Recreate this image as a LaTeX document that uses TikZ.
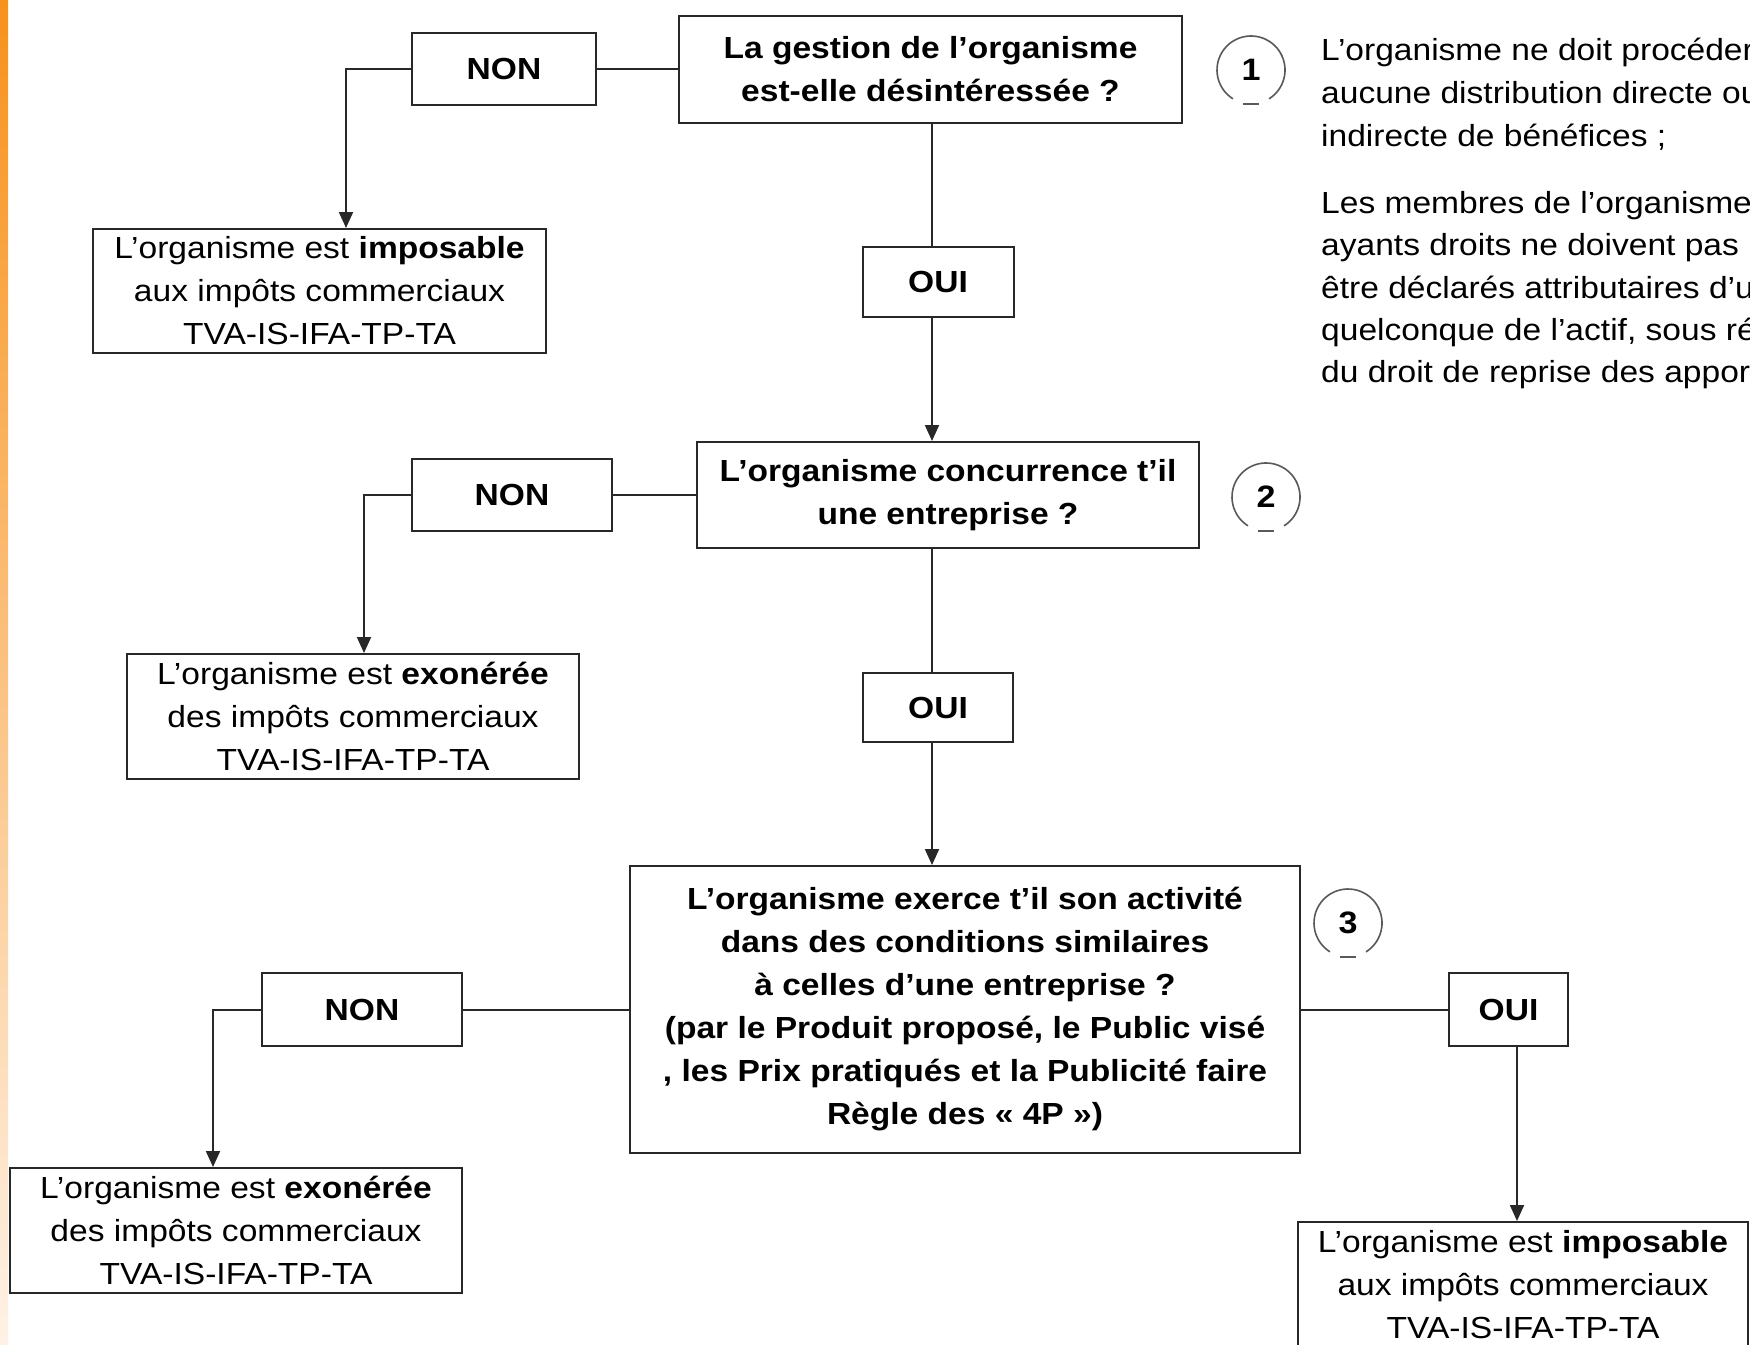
\documentclass[tikz,border=0pt]{standalone}
\usepackage{fontspec}
\setmainfont{Liberation Sans}[FakeStretch=1.1]
\usetikzlibrary{arrows.meta}
\definecolor{orA}{RGB}{247,146,28}
\definecolor{orB}{RGB}{252,196,130}
\definecolor{orC}{RGB}{254,242,230}
\definecolor{ink}{RGB}{40,40,40}
\begin{document}
\begin{tikzpicture}[x=1pt,y=-1pt,
  box/.style={draw=ink, line width=2pt, fill=white, align=center, inner sep=0pt,
    font=\fontsize{30.5}{43}\selectfont},
  lbl/.style={box, font=\bfseries\fontsize{30.5}{43}\selectfont},
  ln/.style={draw=ink, line width=2pt},
  arr/.style={ln, -{Triangle[length=16pt,width=14pt]}},
  circ/.style={draw=black!65, line width=1.6pt},
  num/.style={font=\bfseries\fontsize{31}{36}\selectfont, inner sep=0pt},
  side/.style={anchor=base west, inner sep=0pt, font=\fontsize{30.5}{43}\selectfont}]

\useasboundingbox (0,0) rectangle (1750,1344);
\fill[white] (0,0) rectangle (1750,1344);
\shade[top color=orA, middle color=orB, bottom color=orC] (0,0) rectangle (8,1344);

% questions
\node[lbl, minimum width=503pt, minimum height=107pt] (q1) at (930.5,69.5)
  {La gestion de l’organisme\\est-elle désintéressée ?};
\node[lbl, minimum width=502pt, minimum height=106pt] (q2) at (948,495)
  {L’organisme concurrence t’il\\une entreprise ?};
\node[lbl, minimum width=670pt, minimum height=287pt] (q3) at (965,1009.5)
  {L’organisme exerce t’il son activité\\dans des conditions similaires\\à celles d’une entreprise ?\\(par le Produit proposé, le Public visé\\, les Prix pratiqués et la Publicité faire\\Règle des « 4P »)};

% labels
\node[lbl, minimum width=184pt, minimum height=72pt] (non1) at (504,69) {NON};
\node[lbl, minimum width=151pt, minimum height=70pt] (oui1) at (938,282) {OUI};
\node[lbl, minimum width=200pt, minimum height=72pt] (non2) at (512,495) {NON};
\node[lbl, minimum width=150pt, minimum height=69pt] (oui2) at (938,707.5) {OUI};
\node[lbl, minimum width=200pt, minimum height=73pt] (non3) at (362,1009.5) {NON};
\node[lbl, minimum width=119pt, minimum height=73pt] (oui3) at (1508.5,1009.5) {OUI};

% results
\node[box, minimum width=453pt, minimum height=124pt] (r1) at (319.5,291)
  {L’organisme est \textbf{imposable}\\aux impôts commerciaux\\TVA-IS-IFA-TP-TA};
\node[box, minimum width=452pt, minimum height=125pt] (r2) at (353,716.5)
  {L’organisme est \textbf{exonérée}\\des impôts commerciaux\\TVA-IS-IFA-TP-TA};
\node[box, minimum width=452pt, minimum height=125pt] (r3) at (236,1230.5)
  {L’organisme est \textbf{exonérée}\\des impôts commerciaux\\TVA-IS-IFA-TP-TA};
\node[box, minimum width=450pt, minimum height=125pt] (r4) at (1523,1284.5)
  {L’organisme est \textbf{imposable}\\aux impôts commerciaux\\TVA-IS-IFA-TP-TA};

% helper coordinates
\coordinate (v) at (932,0);
\coordinate (a1) at (346,0);
\coordinate (a2) at (364,0);
\coordinate (a3) at (213,0);
\coordinate (a4) at (1517,0);

% connectors
\draw[ln] (q1.west |- non1.east) -- (non1.east);
\draw[arr] (non1.west) -| (a1 |- r1.north);
\draw[ln] (q1.south -| v) -- (oui1.north -| v);
\draw[arr] (oui1.south -| v) -- (q2.north -| v);
\draw[ln] (q2.west |- non2.east) -- (non2.east);
\draw[arr] (non2.west) -| (a2 |- r2.north);
\draw[ln] (q2.south -| v) -- (oui2.north -| v);
\draw[arr] (oui2.south -| v) -- (q3.north -| v);
\draw[ln] (q3.west |- non3.east) -- (non3.east);
\draw[arr] (non3.west) -| (a3 |- r3.north);
\draw[ln] (q3.east |- oui3.west) -- (oui3.west);
\draw[arr] (oui3.south -| a4) -- (r4.north -| a4);

% circled numbers
\node[num] (c1) at (1251,70) {1};
\node[num] (c2) at (1266,497) {2};
\node[num] (c3) at (1348,923) {3};
\foreach \c in {c1,c2,c3}{
  \draw[circ] (\c) ++(122:34) arc[start angle=122, end angle=418, radius=34];
  \draw[circ] (\c) ++(-8,34) -- ++(16,0);
}

% side text
\node[side] (t1) at (1321,60) {L’organisme ne doit procéder};
\node[side] (t2) at (1321,103) {aucune distribution directe ou};
\node[side] (t3) at (1321,146) {indirecte de bénéfices ;};
\node[side] (t4) at (1321,213) {Les membres de l’organisme};
\node[side] (t5) at (1321,255) {ayants droits ne doivent pas p};
\node[side] (t6) at (1321,298) {être déclarés attributaires d’u};
\node[side] (t7) at (1321,340) {quelconque de l’actif, sous ré};
\node[side] (t8) at (1321,382) {du droit de reprise des appor};
\end{tikzpicture}
\end{document}
